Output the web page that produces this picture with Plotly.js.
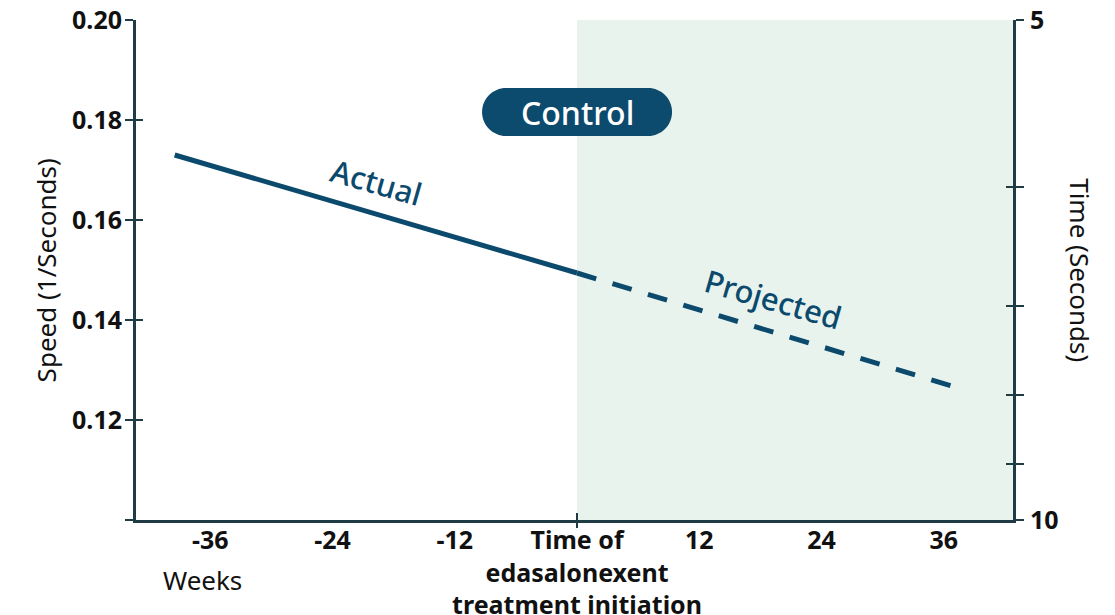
<!DOCTYPE html>
<html>
<head>
<meta charset="utf-8">
<script src="https://cdn.plot.ly/plotly-3.0.1.min.js"></script>
<style>html,body{margin:0;padding:0;background:#fff}#chart{width:1115px;height:615px}</style>
</head>
<body>
<div id="chart"></div>
<script>
// ---- data ----
const weeksActual = [-39.5, 0];
const speedActual = [0.1730, 0.1494];
const weeksProjected = [0, 36.8];
const speedProjected = [0.1494, 0.1268];
const xTickVals = [-36, -24, -12, 0, 12, 24, 36];
const xTickText = ['-36', '-24', '-12', 'Time of<br>edasalonexent<br>treatment initiation', '12', '24', '36'];
const yTickVals = [0.10, 0.12, 0.14, 0.16, 0.18, 0.20];
const yTickText = ['', '0.12', '0.14', '0.16', '0.18', '0.20'];
const timeSeconds = [5, 6, 7, 8, 9, 10];
const timeTickText = ['5', '', '', '', '', '10'];

const lineColor = '#0b4a6d';
const axisColor = '#1f3b44';
const font = 'Noto Sans, Open Sans, sans-serif';
const xRange = [-43.3, 42.8];
const yRange = [0.10, 0.20];

const traces = [
  {x: weeksActual, y: speedActual, mode: 'lines', line: {color: lineColor, width: 5}, hoverinfo: 'skip', showlegend: false},
  {x: weeksProjected, y: speedProjected, mode: 'lines', line: {color: lineColor, width: 5, dash: '20px,17px'}, hoverinfo: 'skip', showlegend: false}
];

const tickFont = {family: font, size: 25, color: '#111', weight: 'bold'};

const layout = {
  width: 1115, height: 615,
  margin: {l: 136, r: 102, t: 20, b: 95},
  paper_bgcolor: '#fff', plot_bgcolor: 'rgba(0,0,0,0)',
  font: {family: font, color: '#111'},
  showlegend: false,
  xaxis: {
    range: xRange, tickvals: xTickVals, ticktext: xTickText, ticks: '', tickangle: 0,
    showgrid: false, zeroline: false, showline: true, linecolor: axisColor, linewidth: 3,
    tickfont: tickFont, ticklabelstandoff: -4,
    fixedrange: true
  },
  xaxis2: {
    overlaying: 'x', range: xRange, tickvals: [0], ticks: 'outside', ticklen: 7, tickwidth: 2, tickcolor: axisColor,
    showticklabels: false, showgrid: false, zeroline: false, showline: false
  },
  xaxis3: {
    overlaying: 'x', range: xRange, tickvals: [0], ticks: 'inside', ticklen: 7, tickwidth: 2, tickcolor: axisColor,
    showticklabels: false, showgrid: false, zeroline: false, showline: false
  },
  yaxis: {
    range: yRange, tickvals: yTickVals, ticktext: yTickText, ticks: 'outside', ticklen: 8, tickwidth: 2, tickcolor: axisColor,
    showgrid: false, zeroline: false, showline: true, linecolor: axisColor, linewidth: 3,
    tickfont: tickFont, ticklabelstandoff: -2
  },
  yaxis3: {
    overlaying: 'y', range: yRange, tickvals: yTickVals, ticks: 'inside', ticklen: 7, tickwidth: 2, tickcolor: axisColor,
    showticklabels: false, showgrid: false, zeroline: false, showline: false
  },
  yaxis2: {
    overlaying: 'y', side: 'right', range: yRange,
    tickvals: timeSeconds.map(t => 1 / t), ticktext: timeTickText,
    ticks: 'outside', ticklen: 8, tickwidth: 2, tickcolor: axisColor,
    showgrid: false, zeroline: false, showline: true, linecolor: axisColor, linewidth: 3,
    tickfont: tickFont, ticklabelstandoff: 1
  },
  yaxis4: {
    overlaying: 'y', side: 'right', range: yRange,
    tickvals: timeSeconds.map(t => 1 / t), ticks: 'inside', ticklen: 7, tickwidth: 2, tickcolor: axisColor,
    showticklabels: false, showgrid: false, zeroline: false, showline: false
  },
  shapes: [
    {type: 'rect', xref: 'x', yref: 'y', x0: 0, x1: xRange[1], y0: yRange[0], y1: yRange[1],
     fillcolor: '#e9f3ee', line: {width: 0}, layer: 'below'},
    {type: 'path', xref: 'x', yref: 'y', xsizemode: 'pixel', ysizemode: 'pixel', xanchor: 0, yanchor: 0.1816,
     path: 'M -71,-24 L 71,-24 C 84.25,-24 95,-13.25 95,0 C 95,13.25 84.25,24 71,24 L -71,24 C -84.25,24 -95,13.25 -95,0 C -95,-13.25 -84.25,-24 -71,-24 Z',
     fillcolor: '#0c4a6e', line: {width: 0}, layer: 'above'}
  ],
  annotations: [
    {xref: 'x', yref: 'y', x: 0, y: 0.1816, text: 'Control', showarrow: false,
     font: {family: font, size: 32, color: '#ffffff', weight: 500}},
    {xref: 'x', yref: 'y', x: -19.7, y: 0.1676, text: 'Actual', showarrow: false, textangle: 16,
     font: {family: font, size: 31, color: lineColor, weight: 500}},
    {xref: 'x', yref: 'y', x: 19.3, y: 0.1442, text: 'Projected', showarrow: false, textangle: 16,
     font: {family: font, size: 31, color: lineColor, weight: 500}},
    {xref: 'paper', yref: 'paper', x: -0.125, y: 0.5, text: 'Speed (1/Seconds)', showarrow: false, textangle: -90,
     font: {family: font, size: 26, color: '#111'}},
    {xref: 'paper', yref: 'paper', x: 1.099, y: 0.5, text: 'Time (Seconds)', showarrow: false, textangle: 90,
     font: {family: font, size: 26, color: '#111'}},
    {xref: 'x', yref: 'paper', x: -36.8, y: -0.12, yanchor: 'middle', text: 'Weeks', showarrow: false,
     font: {family: font, size: 26, color: '#111'}}
  ]
};

const data = traces.concat([
  {x: [0], y: [0.15], xaxis: 'x2', yaxis: 'y3', mode: 'markers', marker: {opacity: 0}, hoverinfo: 'skip', showlegend: false},
  {x: [0], y: [0.15], xaxis: 'x3', yaxis: 'y2', mode: 'markers', marker: {opacity: 0}, hoverinfo: 'skip', showlegend: false},
  {x: [0], y: [0.15], xaxis: 'x', yaxis: 'y4', mode: 'markers', marker: {opacity: 0}, hoverinfo: 'skip', showlegend: false}
]);

Plotly.newPlot('chart', data, layout, {displayModeBar: false, staticPlot: true});
</script>
</body>
</html>
